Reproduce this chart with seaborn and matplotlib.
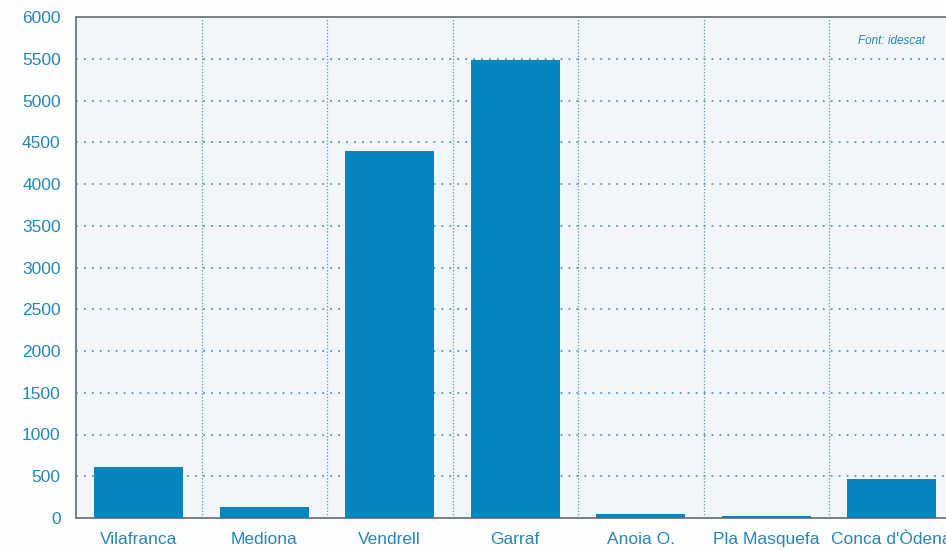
import matplotlib
matplotlib.use("Agg")
import matplotlib.pyplot as plt
import seaborn as sns
import pandas as pd

comarques = ["Vilafranca", "Mediona", "Vendrell", "Garraf", "Anoia O.", "Pla Masquefa", "Conca d'Òdena"]
valors = [610, 130, 4390, 5490, 45, 25, 470]
yticks = [0, 500, 1000, 1500, 2000, 2500, 3000, 3500, 4000, 4500, 5000, 5500, 6000]

df = pd.DataFrame({"comarca": comarques, "valor": valors})

sns.set_style("white")
plt.rcParams["font.family"] = ["Liberation Sans", "DejaVu Sans"]

text_col = "#2787b6"
bar_col = "#0585bd"
grid_col = "#5f93ad"

fig = plt.figure(figsize=(9.46, 5.51), dpi=100)
fig.patch.set_facecolor("#fdfeff")
ax = fig.add_axes([76 / 946, 33 / 551, 878.5 / 946, 501 / 551])
ax.set_facecolor("#f1f6fa")

sns.barplot(data=df, x="comarca", y="valor", color=bar_col, width=0.71,
            saturation=1, linewidth=0, ax=ax, zorder=3)

ax.set_ylim(0, 6000)
ax.set_xlim(-0.5, len(comarques) - 0.5)
ax.set_yticks(yticks)
ax.set_yticklabels([str(t) for t in yticks])

# dotted horizontal guides at every 500 (excluding axis edges)
for t in yticks[1:-1]:
    ax.axhline(t, color=grid_col, lw=1.3, ls=(0, (1, 3.4)), zorder=1)
# dotted separators between categories
for i in range(len(comarques) - 1):
    ax.axvline(i + 0.5, color=grid_col, lw=0.9, ls=(0, (1, 1.6)), zorder=1)

for side in ["left", "top", "bottom"]:
    ax.spines[side].set_color("#7a7f84")
    ax.spines[side].set_linewidth(1.4)
ax.spines["right"].set_visible(False)

ax.tick_params(axis="both", length=0, labelsize=12.5, labelcolor=text_col)
ax.tick_params(axis="y", pad=11)
ax.tick_params(axis="x", pad=10)
ax.set_xlabel("")
ax.set_ylabel("")

ax.text(6.0, 5712, "Font: idescat", fontsize=8.5, style="italic",
        color=text_col, ha="center", va="center")

fig.savefig("out.png", dpi=100, facecolor=fig.get_facecolor())
